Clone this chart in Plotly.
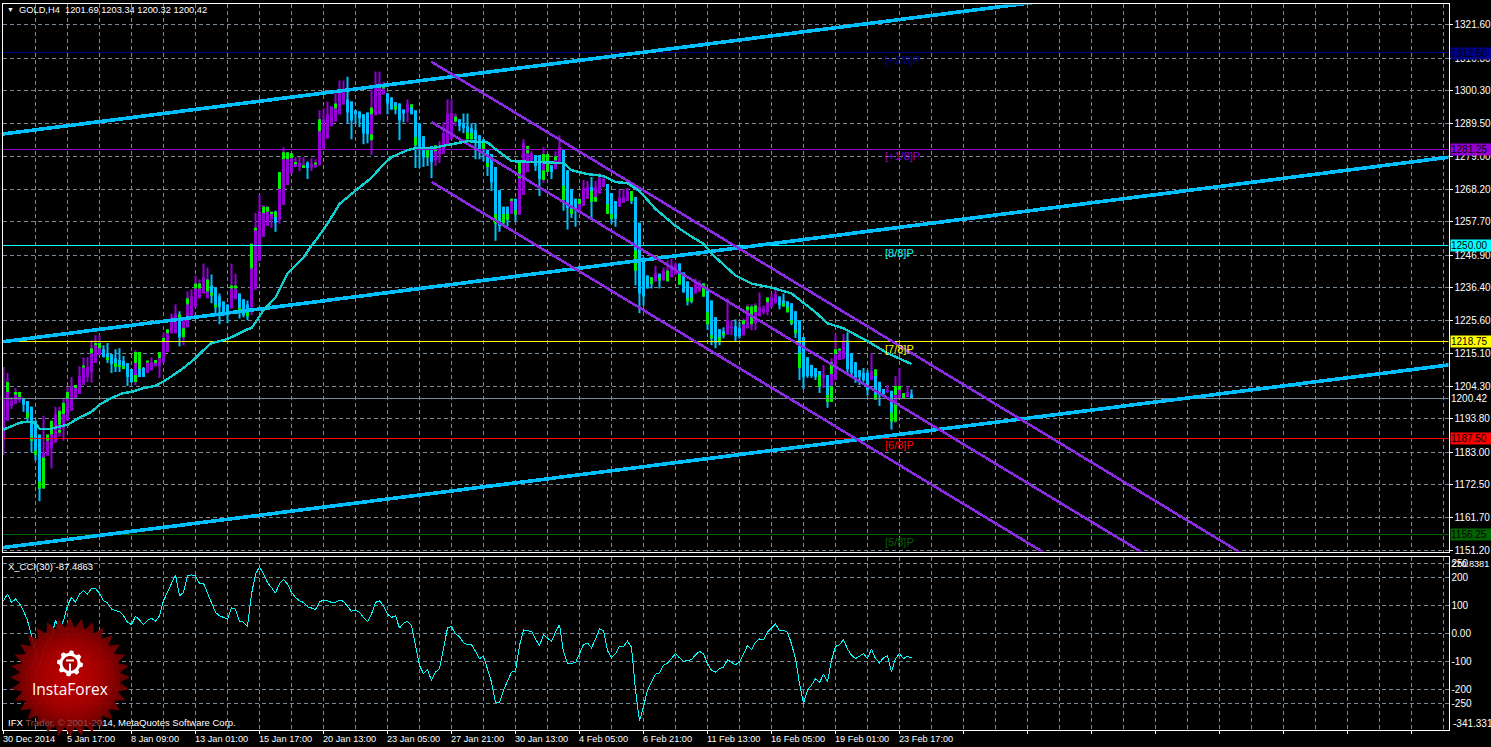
import numpy as np
import plotly.graph_objects as go

W, H = 1491, 747

# ---------- price candles (one entry per H4 bar) ----------
body_top = [
1200.0,1202.5,1199.6,1202.5,1200.9,1200.6,1199.6,1197.7,1193.2,1188.7,
1182.9,1186.7,1188.7,1195.1,1191.9,1195.4,1200.3,1204.5,1203.8,1207.7,
1210.6,1210.6,1215.1,1217.7,1216.7,1216.4,1215.1,1214.8,1213.5,1212.9,
1212.6,1211.9,1210.0,1211.9,1210.0,1210.3,1212.2,1212.2,1211.9,1213.5,
1219.0,1221.6,1226.8,1227.7,1225.8,1225.8,1230.9,1233.5,1236.1,1236.1,
1239.7,1237.1,1237.1,1236.4,1233.5,1231.9,1230.9,1236.1,1236.1,1234.5,
1232.6,1230.9,1250.6,1255.2,1261.0,1262.6,1262.6,1261.0,1261.0,1273.9,
1280.3,1280.3,1280.0,1277.1,1276.8,1276.1,1276.8,1276.4,1276.4,1291.0,
1291.0,1292.6,1295.2,1296.1,1299.4,1300.0,1297.4,1296.8,1293.9,1293.5,
1292.6,1293.2,1292.6,1302.3,1302.6,1301.6,1299.4,1298.1,1296.5,1296.1,
1294.2,1295.8,1295.8,1293.9,1289.7,1285.5,1281.3,1282.3,1282.6,1281.6,
1286.5,1292.9,1292.9,1291.9,1291.0,1289.7,1288.7,1288.1,1287.4,1285.8,
1284.5,1281.3,1279.7,1275.5,1268.0,1262.6,1262.6,1265.2,1265.2,1276.8,
1283.2,1282.3,1279.7,1279.4,1279.4,1277.4,1279.7,1276.1,1277.7,1281.9,
1281.0,1274.5,1268.4,1265.2,1265.2,1268.7,1269.1,1269.1,1269.1,1271.9,
1271.6,1270.0,1267.1,1264.5,1265.5,1265.8,1267.7,1267.7,1265.8,1257.4,
1246.1,1240.3,1239.7,1240.9,1240.9,1241.9,1241.9,1242.9,1243.9,1244.2,
1241.3,1238.4,1236.4,1237.7,1237.7,1237.7,1235.5,1232.2,1226.8,1222.9,
1222.2,1225.8,1223.8,1223.8,1223.2,1225.8,1230.3,1230.3,1230.6,1230.0,
1229.7,1233.2,1233.2,1234.2,1233.5,1232.2,1231.9,1231.3,1228.7,1225.8,
1220.3,1213.8,1211.3,1210.3,1209.3,1208.0,1208.0,1208.4,1216.4,1216.1,
1218.7,1219.3,1215.1,1212.2,1209.6,1208.7,1208.7,1209.3,1207.7,1205.8,
1203.5,1203.2,1202.9,1201.6,1204.5,1202.2,1202.5,1201.69]

body_bottom = [
1187.1,1193.2,1198.0,1198.7,1200.0,1198.4,1194.2,1186.7,1182.2,1171.2,
1171.2,1181.9,1184.2,1186.1,1190.3,1190.9,1193.2,1196.4,1200.3,1201.9,
1204.8,1207.4,1209.0,1211.9,1214.5,1213.8,1212.9,1211.6,1210.6,1210.6,
1210.0,1207.4,1205.8,1208.0,1207.4,1207.4,1208.7,1209.6,1210.9,1210.9,
1212.2,1215.5,1221.6,1221.6,1220.3,1220.3,1223.5,1227.1,1230.0,1232.9,
1234.5,1232.9,1233.8,1230.0,1230.0,1228.0,1228.0,1229.7,1232.6,1229.7,
1227.4,1227.1,1230.0,1235.8,1245.1,1252.9,1256.4,1258.7,1257.4,1258.4,
1263.2,1269.7,1273.5,1275.5,1275.5,1275.2,1275.2,1275.5,1275.8,1276.1,
1281.3,1284.8,1288.7,1290.3,1292.6,1295.8,1293.2,1290.6,1292.6,1291.3,
1286.4,1286.1,1286.1,1292.3,1292.6,1299.0,1296.1,1294.2,1294.2,1290.6,
1292.9,1293.2,1292.6,1282.6,1281.3,1278.7,1278.7,1277.1,1277.7,1279.7,
1279.7,1282.9,1284.5,1290.3,1288.7,1288.1,1284.5,1284.5,1284.5,1281.3,
1281.3,1275.5,1270.6,1257.1,1256.4,1257.4,1258.4,1260.3,1260.0,1260.0,
1266.4,1273.9,1276.8,1275.8,1271.6,1274.5,1273.9,1273.9,1274.8,1276.4,
1264.8,1262.2,1260.3,1261.9,1261.3,1262.9,1265.2,1264.2,1264.2,1266.8,
1269.1,1260.3,1258.7,1258.7,1262.6,1263.9,1264.5,1264.5,1241.9,1234.5,
1233.5,1236.1,1237.7,1238.4,1238.7,1238.7,1238.4,1239.7,1240.6,1237.4,
1234.8,1231.9,1231.9,1234.5,1235.1,1233.5,1224.5,1220.0,1218.4,1218.7,
1220.9,1221.2,1223.2,1220.6,1220.6,1220.9,1223.2,1224.5,1224.8,1227.1,
1228.4,1228.4,1230.0,1231.3,1230.6,1230.3,1228.4,1224.8,1221.6,1210.3,
1207.4,1207.7,1207.7,1207.4,1204.2,1207.4,1199.3,1204.5,1206.4,1212.9,
1213.2,1210.0,1208.7,1207.0,1207.4,1206.4,1203.2,1206.4,1201.6,1201.6,
1201.9,1202.5,1192.9,1199.0,1200.6,1200.6,1200.9,1200.42]

high = [
1210.6,1208.7,1200.9,1203.8,1202.5,1200.6,1199.6,1197.7,1193.2,1188.7,
1194.8,1188.7,1193.2,1197.7,1197.7,1200.6,1204.2,1207.4,1204.8,1210.9,
1213.8,1213.8,1219.3,1220.9,1220.9,1217.7,1218.4,1214.8,1216.4,1216.7,
1214.2,1211.9,1210.0,1216.1,1215.5,1210.6,1212.6,1213.8,1212.9,1215.5,
1221.9,1222.9,1228.0,1230.9,1228.7,1225.8,1235.1,1235.8,1240.3,1239.0,
1244.2,1242.9,1240.6,1236.4,1234.5,1231.9,1230.9,1244.2,1240.9,1234.5,
1232.6,1232.2,1250.6,1260.6,1266.4,1263.2,1262.6,1261.0,1261.3,1273.9,
1281.9,1280.3,1280.0,1278.7,1278.7,1278.7,1277.4,1278.4,1278.0,1293.9,
1294.5,1296.8,1295.2,1299.4,1303.6,1303.6,1304.8,1296.8,1293.9,1293.5,
1292.6,1293.2,1300.6,1306.5,1306.5,1303.2,1299.4,1298.1,1296.5,1296.1,
1294.2,1297.4,1295.8,1293.9,1289.7,1285.5,1281.3,1282.3,1282.6,1283.9,
1290.0,1297.4,1297.4,1292.9,1291.0,1292.9,1292.9,1289.7,1289.7,1285.8,
1284.5,1281.3,1279.7,1275.5,1268.0,1262.6,1262.6,1265.2,1265.2,1276.8,
1284.5,1282.3,1280.6,1279.4,1279.4,1281.9,1279.7,1276.1,1280.6,1285.8,
1281.0,1274.5,1268.4,1265.2,1265.2,1271.3,1271.0,1272.3,1271.0,1273.5,
1272.6,1270.0,1267.1,1264.5,1268.1,1268.4,1268.7,1267.7,1265.8,1257.4,
1246.1,1240.3,1239.7,1243.5,1240.9,1242.9,1245.2,1245.8,1244.5,1244.2,
1241.3,1238.4,1236.4,1239.3,1238.7,1237.7,1235.5,1232.2,1226.8,1222.9,
1223.5,1232.9,1225.8,1226.1,1225.1,1226.4,1230.9,1230.9,1231.3,1234.8,
1230.6,1233.2,1234.5,1236.1,1233.5,1234.5,1231.9,1231.3,1228.7,1225.8,
1220.3,1213.8,1211.3,1210.3,1209.3,1211.3,1208.0,1213.5,1221.3,1216.4,
1221.3,1221.9,1215.1,1212.2,1209.6,1210.3,1209.6,1215.1,1209.6,1205.8,
1203.5,1204.8,1202.9,1207.7,1210.3,1202.2,1204.5,1203.34]

low = [
1182.2,1193.2,1197.0,1198.7,1199.0,1196.1,1192.6,1182.9,1180.3,1167.1,
1171.2,1181.9,1177.7,1186.1,1188.0,1186.7,1193.2,1196.4,1200.3,1201.9,
1204.8,1205.8,1205.5,1211.9,1214.5,1213.8,1211.9,1208.7,1209.0,1209.0,
1210.0,1204.5,1205.5,1204.8,1207.4,1207.4,1208.7,1209.6,1210.9,1207.1,
1212.2,1215.5,1221.6,1221.6,1217.4,1217.7,1223.5,1227.1,1230.0,1232.9,
1234.5,1232.9,1231.3,1227.1,1224.5,1227.1,1224.8,1229.7,1232.6,1226.4,
1226.8,1225.8,1227.4,1235.8,1245.1,1252.9,1256.4,1255.8,1254.5,1257.1,
1263.2,1269.7,1273.5,1275.5,1274.2,1275.2,1271.6,1274.2,1275.2,1276.1,
1281.3,1284.8,1288.7,1290.3,1292.6,1295.8,1289.7,1284.5,1289.7,1288.4,
1282.9,1283.2,1279.4,1292.3,1292.6,1299.0,1292.6,1294.2,1292.6,1284.2,
1290.0,1290.0,1292.6,1275.2,1275.2,1275.5,1275.8,1271.9,1275.8,1276.8,
1279.7,1282.9,1284.5,1288.7,1287.1,1286.5,1284.5,1284.5,1278.0,1278.0,
1277.4,1272.6,1267.7,1251.6,1254.5,1256.4,1256.4,1260.3,1258.0,1260.0,
1266.4,1273.9,1276.8,1274.2,1266.1,1270.3,1273.9,1271.6,1274.8,1276.4,
1261.3,1255.2,1259.0,1256.1,1261.3,1262.9,1265.2,1259.0,1264.2,1266.8,
1269.1,1260.3,1257.1,1256.1,1262.6,1263.9,1264.5,1263.5,1237.1,1228.1,
1230.6,1236.1,1236.1,1238.4,1236.1,1238.7,1238.4,1239.7,1240.6,1237.4,
1234.8,1230.6,1231.3,1234.5,1235.1,1233.5,1222.6,1217.7,1216.7,1217.7,
1219.9,1221.2,1220.9,1219.0,1219.9,1220.9,1223.2,1222.6,1222.6,1227.1,
1227.7,1227.4,1230.0,1231.3,1229.3,1230.3,1228.4,1224.2,1220.0,1206.4,
1203.5,1207.1,1207.1,1206.4,1202.2,1203.8,1197.4,1199.3,1206.4,1212.9,
1213.2,1208.7,1207.1,1205.5,1204.8,1205.8,1201.3,1206.4,1200.0,1198.0,
1201.3,1202.2,1190.3,1192.5,1200.6,1200.3,1200.9,1200.32]

bar_is_up = ("U"*5+"D"*5+"U"*15+"D"*8+"U"+"D"*2+"U"*8+"D"+"U"*7+"D"*5+"U"*2+"D"*3+"U"*6+"D"+"U"*7+"D"+
             "U"*9+"D"*6+"U"*4+"D"*5+"U"+"D"*6+"U"*6+"D"*13+"U"+"D"+"U"*4+"D"*2+"U"*2+"D"+"U"*2+"D"*4+
             "U"*3+"D"+"U"*3+"D"*3+"U"*3+"D"*6+"U"+"D"+"U"*4+"D"*4+"U"*2+"D"*6+"U"*2+"D"*2+"U"*9+"D"*11+
             "U"+"D"+"U"*4+"D"*6+"U"+"D"*3+"U"+"D"+"U"*2+"D"+"U"+"D")

# green overlay stretches seen on some candles
green_bar = [1,3,4,6,7,8,9,10,11,12,14,14,15,16,18,20,22,23,24,26,28,29,30,33,33,34,36,38,39,40,41,44,45,46,48,49,51,52,53,
             57,58,59,61,62,63,65,66,67,68,69,70,71,72,73,75,78,79,83,92,92,95,98,102,103,106,108,113,116,117,120,121,123,
             125,126,127,128,129,131,135,135,136,138,140,142,144,147,148,151,152,157,158,162,164,166,169,171,172,175,176,
             177,179,180,185,186,187,188,191,195,196,197,198,199,204,206,207,207,208,209,218,218,222,223,223,224,225]
green_top = [1205.8,1202.5,1202.5,1195.8,1188.0,1183.5,1173.5,1181.3,1188.7,1193.2,1196.4,1190.3,1199.0,1202.5,1204.8,1210.9,
             1216.7,1218.4,1218.4,1213.8,1211.9,1211.3,1210.9,1215.5,1208.0,1215.5,1212.6,1212.9,1215.5,1220.0,1222.9,1227.7,
             1223.2,1232.9,1237.7,1237.7,1239.0,1234.8,1230.9,
             1237.1,1237.1,1229.7,1228.4,1250.6,1255.8,1262.6,1262.6,1261.0,1261.0,1273.9,1280.3,1280.3,1280.0,1277.1,1276.1,
             1276.8,1291.0,1296.1,1294.8,1286.1,1301.6,1295.2,1295.8,1285.2,1281.3,1282.6,1291.9,1286.8,1286.5,1283.9,1276.8,
             1260.3,1260.3,1260.3,1265.2,1261.6,1276.8,1282.3,1279.7,1274.5,1279.7,1279.0,1269.4,1261.9,1265.2,1267.7,1265.8,
             1263.5,1260.3,1267.7,1248.4,1239.7,1239.7,1241.9,1240.6,1232.9,1233.2,1237.7,1228.4,
             1220.9,1220.3,1221.6,1225.8,1230.3,1230.3,1230.6,1233.2,1231.3,1230.0,1225.8,1222.6,1215.1,1208.0,1201.6,1212.2,
             1204.5,1216.4,1216.4,1209.9,1201.6,1195.8,1204.5,1199.0,1204.5,1202.2]
green_bottom = [1202.5,1201.6,1200.9,1194.2,1186.7,1182.2,1171.2,1171.2,1186.7,1188.7,1191.9,1189.3,1195.4,1200.3,1203.8,1210.6,
                1215.1,1217.7,1216.7,1212.9,1210.6,1210.6,1210.0,1211.9,1205.8,1210.0,1212.2,1211.9,1213.5,1219.0,1221.6,1225.8,
                1220.3,1230.9,1236.1,1236.1,1235.1,1233.8,1230.0,
                1236.1,1236.1,1228.4,1227.1,1242.6,1255.2,1260.6,1261.0,1260.3,1259.3,1268.4,1278.0,1278.0,1278.4,1276.4,1275.2,
                1276.4,1287.1,1294.5,1292.6,1284.2,1301.0,1294.2,1294.8,1282.6,1278.7,1280.6,1290.3,1284.5,1284.5,1281.3,1275.5,
                1257.1,1257.4,1258.4,1264.5,1260.0,1271.9,1280.0,1277.4,1271.3,1273.9,1277.7,1264.8,1260.3,1263.5,1264.2,1264.2,
                1260.3,1258.7,1264.5,1241.9,1237.7,1238.7,1238.4,1237.4,1231.9,1231.9,1233.5,1224.5,
                1219.9,1218.7,1220.9,1224.5,1229.0,1224.5,1228.4,1231.6,1230.3,1228.4,1224.8,1221.6,1210.3,1204.2,1199.3,1208.4,
                1199.3,1214.8,1216.1,1207.7,1200.0,1192.9,1201.6,1192.9,1203.2,1200.6]

# moving average (bar index, price)
ma_bar = [0,2,4,6,8,9,12,16,19,22,24,27,30,32,35,38,41,45,48,50,52,55,57,61,62,65,68,71,75,77,78,81,84,87,92,95,97,101,103,107,
          112,116,121,123,127,132,136,140,142,146,150,153,156,159,163,168,172,175,177,183,187,192,197,200,203,206,210,216,221,227]
ma_value = [1190.3,1191.3,1192.5,1192.9,1192.5,1190.6,1190.6,1191.9,1194.2,1196.1,1198.4,1200.6,1202.2,1202.5,1203.8,1204.5,
            1206.7,1210.3,1213.5,1216.1,1218.4,1219.3,1220.3,1222.9,1223.2,1229.0,1233.2,1241.0,1246.1,1250.0,1251.6,1257.1,
            1263.5,1266.8,1272.0,1276.4,1278.7,1281.0,1281.6,1281.6,1282.9,1283.9,1283.5,1281.3,1277.4,1277.1,1276.8,1276.8,
            1274.5,1273.2,1272.6,1270.6,1270.3,1267.7,1261.9,1256.4,1252.9,1250.6,1247.4,1240.3,1237.7,1236.4,1234.5,1231.3,
            1228.4,1224.8,1223.2,1219.0,1215.1,1211.6]

# rising blue channel (bar index at each end, price at each end)
rise_bars = [-0.9, 361.4]
rise_upper = [1286.1, 1346.1]
rise_middle = [1218.7, 1278.7]
rise_lower = [1151.9, 1211.3]

# falling violet channel
fall_upper_bars = [106.9, 310.0]
fall_upper = [1309.7, 1149.8]
fall_middle_bars = [107.0, 285.0]
fall_middle = [1290.1, 1150.2]
fall_lower_bars = [107.0, 260.0]
fall_lower = [1270.7, 1150.5]

# Murrey math levels
level_values = [1312.50, 1281.25, 1250.00, 1218.75, 1187.50, 1156.25]
level_names = ["[+2/8]P", "[+1/8]P", "[8/8]P", "[7/8]P", "[6/8]P", "[5/8]P"]
level_colors = ["#00008b", "#9400d3", "#00ffff", "#ffff00", "#ff0000", "#006400"]
last_price = 1200.42

# CCI indicator (one entry per bar)
cci = [
118,142,112,124,108,82,47,-7,-61,-118,
-61,-31,-11,47,17,47,100,130,112,142,
154,142,162,162,144,118,110,88,82,79,
64,41,32,62,49,32,47,55,44,64,
118,148,183,211,136,148,207,211,207,180,
181,148,112,76,64,58,52,92,88,44,
41,25,142,213,240,215,183,165,145,180,
195,177,148,130,118,112,96,92,86,114,
120,118,112,112,120,116,100,80,85,76,
58,43,70,112,118,100,70,58,64,20,
37,44,29,-49,-114,-144,-130,-168,-138,-126,
-49,20,25,-1,-11,-33,-40,-40,-64,-90,
-81,-126,-174,-249,-249,-203,-168,-138,-134,-43,
13,11,8,-19,-43,-5,-15,-28,5,32,
-66,-106,-106,-105,-72,-39,-34,-51,-19,17,
11,-61,-87,-72,-45,-46,-27,-49,-203,-314,
-263,-203,-174,-146,-141,-114,-106,-87,-72,-87,
-100,-96,-94,-76,-64,-72,-108,-132,-138,-126,
-120,-94,-102,-112,-102,-72,-43,-58,-31,-19,
-22,5,20,35,11,11,5,-37,-90,-180,
-251,-203,-185,-162,-176,-146,-174,-96,-46,-40,
-22,-55,-78,-90,-81,-72,-90,-55,-90,-105,
-87,-80,-136,-90,-72,-90,-81,-87.4863]

# axes
price_ticks = [1321.60,1310.80,1300.30,1289.50,1279.00,1268.20,1257.70,1246.90,1236.40,1225.60,1215.10,1204.30,1193.80,1183.00,
               1172.50,1161.70,1151.20]
cci_ticks = [250,200,100,0,-100,-200,-250]
cci_tick_text = ["250","200","100","0.00","-100","-200","-250"]
date_ticks_bar = [0,16,32,48,64,80,96,112,128,144,160,176,192,208,224]
date_labels = ["30 Dec 2014","5 Jan 17:00","8 Jan 09:00","13 Jan 01:00","15 Jan 17:00","20 Jan 13:00","23 Jan 05:00",
               "27 Jan 21:00","30 Jan 13:00","4 Feb 05:00","6 Feb 21:00","11 Feb 13:00","16 Feb 05:00","19 Feb 01:00","23 Feb 17:00"]
assert len(cci) == len(body_top) == len(body_bottom) == len(high) == len(low) == len(bar_is_up) == 228
assert len(green_bar) == len(green_top) == len(green_bottom)

BLUE, VIOLET, GREEN = "#00bfff", "#9400d3", "#00f000"
GRID = "#778899"
FONT = "Liberation Sans"

bars = list(range(len(body_top)))
colors = [VIOLET if c == "U" else BLUE for c in bar_is_up]
px = lambda x: x / W
# rendered picture sits a little above the requested rows: upper panel by 2, lower part by 4
py = lambda y: 1 - (y + (2 if y < 553 else 4)) / H

fig = go.Figure()
fig.add_trace(go.Bar(x=bars, base=low, y=[h - l for h, l in zip(high, low)], width=0.25,
                     marker=dict(color=colors, line_width=0), xaxis="x", yaxis="y"))
fig.add_trace(go.Bar(x=bars, base=body_bottom, y=[t - b for t, b in zip(body_top, body_bottom)], width=0.75,
                     marker=dict(color=colors, line_width=0), xaxis="x", yaxis="y"))
fig.add_trace(go.Bar(x=green_bar, base=green_bottom, y=[t - b for t, b in zip(green_top, green_bottom)], width=0.75,
                     marker=dict(color=GREEN, line_width=0), xaxis="x", yaxis="y"))

x_span = [-0.25, 361.25]
for v, c in zip(level_values, level_colors):
    fig.add_trace(go.Scatter(x=x_span, y=[v, v], mode="lines", line=dict(color=c, width=1), xaxis="x", yaxis="y"))
fig.add_trace(go.Scatter(x=x_span, y=[last_price, last_price], mode="lines", line=dict(color=GRID, width=1), xaxis="x", yaxis="y"))

for ys in (rise_upper, rise_middle, rise_lower):
    fig.add_trace(go.Scatter(x=rise_bars, y=ys, mode="lines", line=dict(color=BLUE, width=3.6), xaxis="x", yaxis="y"))
for xs, ys in ((fall_upper_bars, fall_upper), (fall_middle_bars, fall_middle), (fall_lower_bars, fall_lower)):
    fig.add_trace(go.Scatter(x=xs, y=ys, mode="lines", line=dict(color="#8a2be2", width=2.6), xaxis="x", yaxis="y"))
fig.add_trace(go.Scatter(x=ma_bar, y=ma_value, mode="lines", line=dict(color="#12cfcf", width=2.4), xaxis="x", yaxis="y"))
fig.add_trace(go.Scatter(x=bars, y=cci, mode="lines", line=dict(color="#00ffff", width=1), xaxis="x2", yaxis="y2"))

# ---------- annotations ----------
ann = []
def text(x, y, s, size=9.5, color="white", anchor="left", family=FONT, **kw):
    ann.append(dict(x=px(x), y=py(y), xref="paper", yref="paper", text=s, showarrow=False, xanchor=anchor, yanchor="middle",
                    font=dict(family=family, size=size, color=color), borderpad=0, **kw))

text(6, 8, "▼", size=7)
text(18, 8, "GOLD,H4&nbsp;&nbsp;1201.69 1203.34 1200.32 1200.42", size=9.3)
text(7, 565.5, "X_CCI(30) -87.4863")
text(7, 722, 'IFX <span style="color:#8a5050">Trader, © 2001-20</span>14, MetaQuotes Software Corp.')
text(1450, 563.5, "270.8381", size=9.2)
text(1452, 723, "-341.331", size=10)

for v, name, c in zip(level_values, level_names, level_colors):
    ann.append(dict(x=219.8, y=v, xref="x", yref="y", yshift=-7, text=name, showarrow=False, xanchor="left", yanchor="middle",
                    font=dict(family=FONT, size=11, color=c)))
    y_px = (1329.05 - v) / 0.3227
    text(1450, y_px, f"{v:.2f}", size=10, color="black", bgcolor=c, width=41, height=11, align="left")
text(1450, (1329.05 - last_price) / 0.3227, f"{last_price:.2f}", size=10, color="white", bgcolor="black", width=41, height=11, align="left")

for b, lab in zip(date_ticks_bar, date_labels):
    ann.append(dict(x=b, y=py(738.5), xref="x2", yref="paper", text=lab, showarrow=False, xanchor="left", yanchor="middle",
                    xshift=-3, font=dict(family=FONT, size=9.2, color="white")))

# ---------- InstaForex badge (decoration) ----------
shapes = []
def polygon(cx, cy, radii, angles):
    pts = [(cx + r * np.sin(a), cy - r * np.cos(a)) for r, a in zip(radii, angles)]
    return "M " + " L ".join(f"{px(x):.5f} {py(y):.5f}" for x, y in pts) + " Z"

cx, cy, spikes = 70, 677, 32
angles = np.linspace(0, 2 * np.pi, 2 * spikes, endpoint=False)
shapes.append(dict(type="path", xref="paper", yref="paper", layer="above", line_width=0, fillcolor="#760000", opacity=0.92,
                   path=polygon(cx, cy, [60 if k % 2 == 0 else 50 for k in range(2 * spikes)], angles)))
for r in range(50, 8, -5):
    circle_angles = np.linspace(0, 2 * np.pi, 60, endpoint=False)
    shapes.append(dict(type="path", xref="paper", yref="paper", layer="above", line_width=0, fillcolor="#d00000", opacity=0.16,
                       path=polygon(cx, cy, [r] * 60, circle_angles)))
# gear
gx, gy = 70, 663
gear_angles = np.linspace(0, 2 * np.pi, 48, endpoint=False)
gear_r = [13 if (k // 3) % 2 == 0 else 10.5 for k in range(48)]
shapes.append(dict(type="path", xref="paper", yref="paper", layer="above", line_width=0, fillcolor="white",
                   path=polygon(gx, gy, gear_r, gear_angles)))
shapes.append(dict(type="path", xref="paper", yref="paper", layer="above", line_width=0, fillcolor="#a80000",
                   path=polygon(gx, gy, [7.5] * 48, gear_angles)))
shapes.append(dict(type="line", xref="paper", yref="paper", layer="above", line=dict(color="white", width=2),
                   x0=px(gx), x1=px(gx), y0=py(gy), y1=py(gy + 12)))
shapes.append(dict(type="line", xref="paper", yref="paper", layer="above", line=dict(color="white", width=2),
                   x0=px(gx - 4), x1=px(gx + 4), y0=py(gy - 3), y1=py(gy - 3)))
text(69.5, 689, "InstaForex", size=15.5, family="Open Sans", anchor="center")

# ---------- layout ----------
def vgrid(show_ticks):
    major = [8 * k for k in range(0, 46, 2)]
    minor = [8 * k for k in range(1, 46, 2)]
    return dict(domain=[px(2.5), px(1448.5)], range=x_span, tickmode="array", tickvals=major, showticklabels=False,
                ticks="outside" if show_ticks else "", ticklen=3, tickcolor="white", showgrid=True, gridcolor=GRID, griddash="4px,3px",
                gridwidth=1, zeroline=False, showline=True, linecolor="white", linewidth=1, mirror=True,
                minor=dict(tickmode="array", tickvals=minor, showgrid=True, gridcolor=GRID, griddash="4px,3px", gridwidth=1, ticks=""))

fig.update_layout(
    width=W, height=H, margin=dict(l=0, r=0, t=0, b=0), autosize=False,
    paper_bgcolor="black", plot_bgcolor="black", showlegend=False, barmode="overlay", hovermode=False,
    font=dict(family=FONT, size=10, color="white"),
    xaxis=dict(vgrid(False), anchor="y"),
    xaxis2=dict(vgrid(True), anchor="y2"),
    yaxis=dict(domain=[py(552.5), py(2.5)], range=[1150.76, 1328.24], side="right", anchor="x", tickmode="array",
               tickvals=price_ticks, ticktext=[f"{v:.2f}" for v in price_ticks], ticks="outside", ticklen=3, tickcolor="white",
               tickfont=dict(family=FONT, size=10, color="white"), showgrid=True, gridcolor=GRID, griddash="4px,3px", gridwidth=1,
               zeroline=False, showline=True, linecolor="white", linewidth=1, mirror=True),
    yaxis2=dict(domain=[py(729.5), py(556.5)], range=[-344.6, 273.2], side="right", anchor="x2", tickmode="array",
                tickvals=cci_ticks, ticktext=cci_tick_text, ticks="", tickfont=dict(family=FONT, size=10, color="white"),
                showgrid=True, gridcolor=GRID, griddash="4px,3px", gridwidth=1, zeroline=False, showline=True,
                linecolor="white", linewidth=1, mirror=True),
    annotations=ann, shapes=shapes,
)
fig.write_html("out.html", config=dict(displayModeBar=False),
               post_script="document.body.style.margin='0';document.body.style.overflow='hidden';document.body.style.background='black';"
                           "document.querySelectorAll('path.js-line').forEach(function(p){p.style.shapeRendering='crispEdges';});")
